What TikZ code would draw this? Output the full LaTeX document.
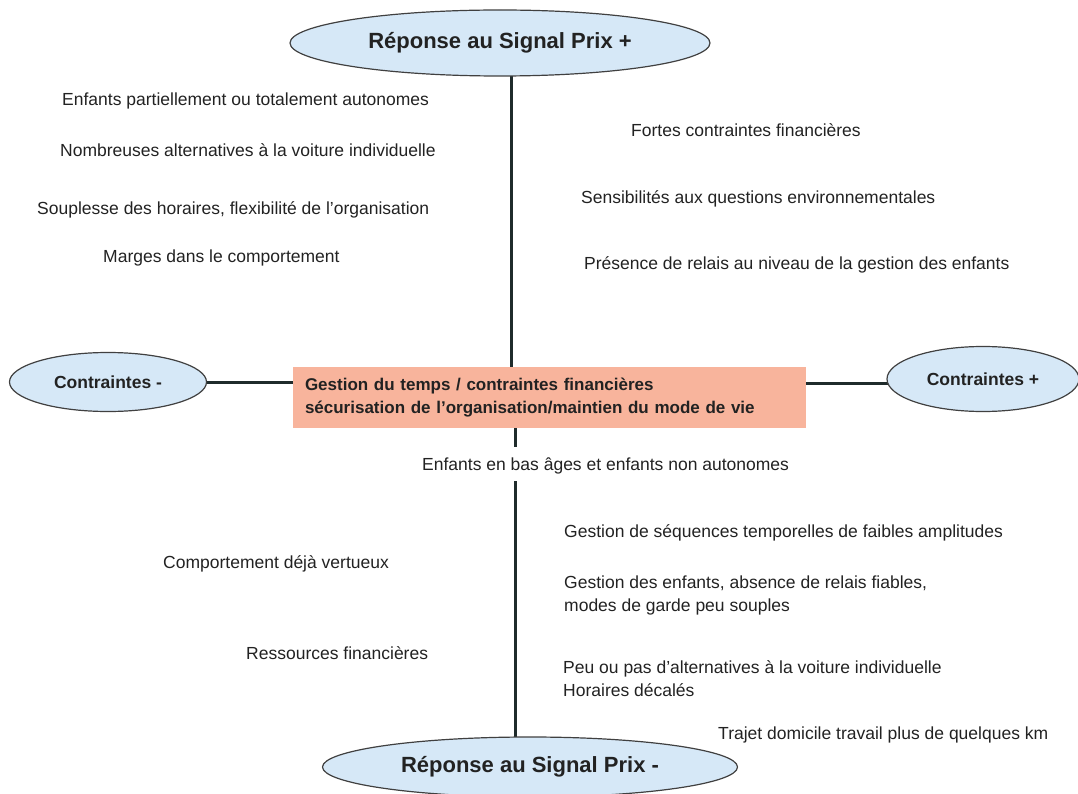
\documentclass[tikz,border=0pt]{standalone}
\usepackage{fontspec}
\setmainfont{Liberation Sans}
\usetikzlibrary{shapes.geometric,backgrounds}

\definecolor{bleuclair}{HTML}{D6E8F7}
\definecolor{saumon}{HTML}{F8B49C}
\definecolor{trait}{HTML}{1F2B2B}
\definecolor{encre}{HTML}{222222}

\tikzset{
	bulle/.style={ellipse, draw=black!75, line width=1.2pt, fill=bleuclair, inner sep=0pt,
		text=encre, font=\fontsize{17.5}{21}\selectfont\bfseries},
	titre/.style={bulle, font=\fontsize{22}{26}\selectfont\bfseries},
	texte/.style={anchor=west, inner sep=0pt, align=left, text=encre,
		font=\fontsize{17.5}{23}\selectfont},
	lien/.style={draw=trait, line width=3pt}
}

\begin{document}
\begin{tikzpicture}[x=1pt, y=-1pt]
		\useasboundingbox (0,0) rectangle (1078,794);

		% les quatre bulles
		\node[titre, minimum width=420pt, minimum height=66pt] (haut) at (500,43) {Réponse au Signal Prix +};
		\node[titre, minimum width=415pt, minimum height=60pt] (bas) at (530,767) {Réponse au Signal Prix -};
		\node[bulle, minimum width=197pt, minimum height=59pt] (gauche) at (108,382) {Contraintes -};
		\node[bulle, minimum width=192pt, minimum height=65pt] (droite) at (983,379) {Contraintes +};

		% le cadre central
		\node[fill=saumon, minimum width=513pt, minimum height=61pt, text width=489pt, inner sep=0pt,
			align=left, text=encre, font=\fontsize{17}{23}\selectfont\bfseries] (centre) at (549.5,397.5)
			{Gestion du temps / contraintes financières\\sécurisation de l’organisation/maintien du mode de vie};

		% en haut a gauche
		\node[texte] (t1) at (62,101) {Enfants partiellement ou totalement autonomes};
		\node[texte] (t2) at (60,150) {Nombreuses alternatives à la voiture individuelle};
		\node[texte] (t3) at (37,210) {Souplesse des horaires, flexibilité de l’organisation};
		\node[texte] (t4) at (103,258) {Marges dans le comportement};

		% en haut a droite
		\node[texte] (t5) at (631,130) {Fortes contraintes financières};
		\node[texte] (t6) at (581,199) {Sensibilités aux questions environnementales};
		\node[texte] (t7) at (584,265) {Présence de relais au niveau de la gestion des enfants};

		% en bas
		\node[texte] (t8) at (422,466) {Enfants en bas âges et enfants non autonomes};
		\node[texte] (t9) at (564,533) {Gestion de séquences temporelles de faibles amplitudes};
		\node[texte] (t10) at (163,564) {Comportement déjà vertueux};
		\node[texte] (t11) at (564,595.5) {Gestion des enfants, absence de relais fiables,\\modes de garde peu souples};
		\node[texte] (t12) at (246,653) {Ressources financières};
		\node[texte] (t13) at (563,678.5) {Peu ou pas d’alternatives à la voiture individuelle\\Horaires décalés};
		\node[texte] (t14) at (718,735) {Trajet domicile travail plus de quelques km};

		\coordinate (axe1) at (511,0);
		\coordinate (axe2) at (515,0);

		\begin{scope}[on background layer]
			\draw[lien] (haut.center -| axe1) -- (centre.north -| axe1);
			\draw[lien] (centre.south -| axe2) -- ([yshift=11pt]t8.north -| axe2);
			\draw[lien] ([yshift=-7pt]t8.south -| axe2) -- (bas.center -| axe2);
			\draw[lien] (gauche.center) -- (centre.west |- gauche.center);
			\draw[lien] ([yshift=-4pt]centre.east |- droite.center) -- ([yshift=-4pt]droite.center);
		\end{scope}
	\end{tikzpicture}
\end{document}
